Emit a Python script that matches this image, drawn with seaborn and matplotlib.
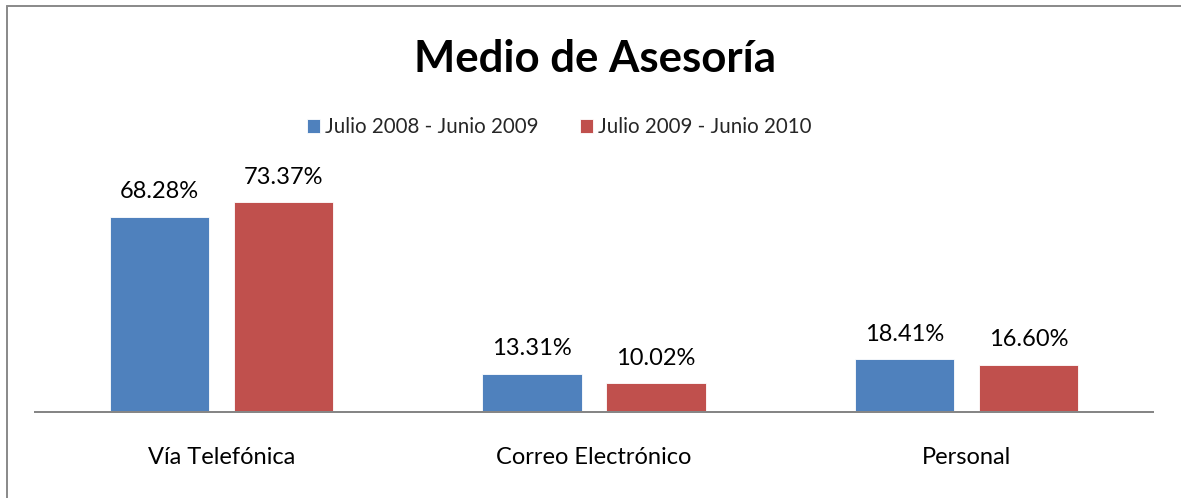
import matplotlib
matplotlib.use("Agg")
import matplotlib.pyplot as plt
from matplotlib.lines import Line2D
import pandas as pd
import seaborn as sns

# values
categories = ["Vía Telefónica", "Correo Electrónico", "Personal"]
periods = ["Julio 2008 - Junio 2009", "Julio 2009 - Junio 2010"]
pct_2008_2009 = [68.28, 13.31, 18.41]
pct_2009_2010 = [73.37, 10.02, 16.60]
colors = ["#4F81BD", "#C0504D"]

df = pd.DataFrame({
    "medio": categories * 2,
    "periodo": [periods[0]] * 3 + [periods[1]] * 3,
    "pct": pct_2008_2009 + pct_2009_2010,
})

sns.set_style("white")
plt.rcParams["font.family"] = ["Lato", "DejaVu Sans"]

W, H = 1181, 498
fig = plt.figure(figsize=(W / 100, H / 100), dpi=100)
ax = fig.add_axes([35 / W, 86 / H, 1118 / W, 228.8 / H])

sns.barplot(data=df, x="medio", y="pct", hue="periodo", palette=colors,
            width=0.666, gap=0.2, edgecolor="white", linewidth=0.6,
            saturation=1, ax=ax)

for cont in ax.containers:
    ax.bar_label(cont, fmt="%.2f%%", padding=10.5, fontsize=17, color="black")

ax.set_xlim(-0.5, 2.5)
ax.set_ylim(0, 80)
ax.set_xlabel("")
ax.set_ylabel("")
ax.set_yticks([])
ax.tick_params(axis="x", length=0, pad=25, labelsize=17, labelcolor="black")
for side in ["top", "left", "right"]:
    ax.spines[side].set_visible(False)
ax.spines["bottom"].set_color("#868686")
ax.spines["bottom"].set_linewidth(1.44)

handles, labels = ax.get_legend_handles_labels()
ax.get_legend().remove()
fig.legend(handles, labels, loc="center", bbox_to_anchor=(559 / W, 1 - 127 / H),
           ncol=2, frameon=False, fontsize=14.8, handlelength=0.64, handleheight=0.64,
           handletextpad=0.25, columnspacing=2.0)

fig.text(594.7 / W, 1 - 72 / H, "Medio de Asesoría", ha="center", va="baseline",
         fontsize=31.5, fontweight="bold", color="black")

# chart border (only top and left edges are inside the crop)
fig.add_artist(Line2D([6.5 / W, 1], [1 - 6.5 / H, 1 - 6.5 / H], color="#8c8c8c", lw=1.44))
fig.add_artist(Line2D([6.5 / W, 6.5 / W], [0, 1 - 6.5 / H], color="#8c8c8c", lw=1.44))

fig.savefig("out.png", dpi=100)
